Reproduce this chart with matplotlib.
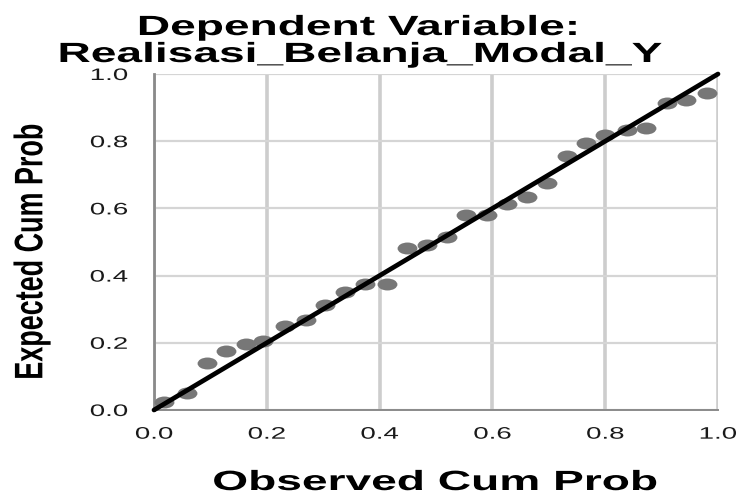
import matplotlib
matplotlib.use("Agg")
import matplotlib.pyplot as plt
from matplotlib.markers import MarkerStyle
from matplotlib.patheffects import AbstractPathEffect
from matplotlib.transforms import Affine2D

# P-P plot values
observed = [0.017, 0.058, 0.094, 0.128, 0.164, 0.194, 0.232, 0.270,
            0.303, 0.339, 0.374, 0.413, 0.448, 0.484, 0.519, 0.554,
            0.590, 0.626, 0.661, 0.696, 0.732, 0.766, 0.800, 0.838,
            0.873, 0.909, 0.944, 0.980]
expected = [0.024, 0.050, 0.140, 0.176, 0.196, 0.204, 0.249, 0.268,
            0.312, 0.350, 0.375, 0.375, 0.482, 0.491, 0.515, 0.579,
            0.579, 0.613, 0.635, 0.675, 0.756, 0.796, 0.818, 0.833,
            0.838, 0.914, 0.923, 0.943]
ticks = [0.0, 0.2, 0.4, 0.6, 0.8, 1.0]
tick_labels = ["0.0", "0.2", "0.4", "0.6", "0.8", "1.0"]

# the reference picture is stretched sideways, text included
SX = 1.66


class Stretch(AbstractPathEffect):
    """draw text wider around its left / centre / right edge"""

    def __init__(self, sx, anchor="center"):
        super().__init__()
        self.sx = sx
        self.anchor = anchor

    def draw_path(self, renderer, gc, tpath, affine, rgbFace=None):
        bb = tpath.get_extents(affine)
        if self.anchor == "right":
            cx = bb.x1
        elif self.anchor == "left":
            cx = bb.x0
        else:
            cx = (bb.x0 + bb.x1) / 2
        t = affine + Affine2D().translate(-cx, 0).scale(self.sx, 1).translate(cx, 0)
        renderer.draw_path(gc, tpath, t, rgbFace)


plt.rcParams["font.family"] = ["Liberation Sans", "DejaVu Sans"]

W, H = 743, 495
fig = plt.figure(figsize=(W / 100, H / 100), dpi=100)
ax = fig.add_axes([154 / W, 85 / H, 564 / W, 336 / H])

ax.set_xlim(0, 1)
ax.set_ylim(0, 1)
ax.set_xticks(ticks)
ax.set_yticks(ticks)
ax.set_xticklabels(tick_labels)
ax.set_yticklabels(tick_labels)
ax.tick_params(length=0, labelsize=12, colors="#1a1a1a")
ax.tick_params(axis="x", pad=12)
ax.tick_params(axis="y", pad=19)
for lbl in ax.get_xticklabels():
    lbl.set_path_effects([Stretch(SX, "center")])
for lbl in ax.get_yticklabels():
    lbl.set_path_effects([Stretch(SX, "right")])

ax.xaxis.grid(True, color="#cdcdcd", linewidth=2.6)
ax.yaxis.grid(True, color="#d5d5d5", linewidth=1.6)
ax.set_axisbelow(True)
for s in ["top", "right"]:
    ax.spines[s].set_visible(False)
ax.spines["left"].set_color("#8a8a8a")
ax.spines["left"].set_linewidth(2.0)
ax.spines["bottom"].set_color("#8a8a8a")
ax.spines["bottom"].set_linewidth(1.4)

dot = MarkerStyle("o", transform=Affine2D().scale(SX, 1))
ax.plot(observed, expected, linestyle="none", marker=dot, color="#777777",
        markersize=8.6, markeredgewidth=0, zorder=3, clip_on=False)
ax.plot([0, 1], [0, 1], color="black", linewidth=3.4, zorder=4,
        solid_capstyle="round", clip_on=False)

t1 = fig.text(358 / W, 1 - 35 / H, "Dependent Variable:", ha="center",
              va="baseline", fontsize=20, fontweight="bold")
t2 = fig.text(360 / W, 1 - 62 / H, "Realisasi_Belanja_Modal_Y",
              ha="center", va="baseline", fontsize=20, fontweight="bold")
xl = fig.text(435 / W, 1 - 490 / H, "Observed Cum Prob", ha="center",
              va="baseline", fontsize=20, fontweight="bold")
for t in (t1, t2, xl):
    t.set_path_effects([Stretch(SX, "center")])

yl = fig.text(32 / W, 1 - 252 / H, "Expected Cum Prob", ha="center",
              va="center", rotation=90, fontsize=19.4, fontweight="bold")
yl.set_path_effects([Stretch(1.48, "center")])

fig.savefig("out.png", dpi=100)
